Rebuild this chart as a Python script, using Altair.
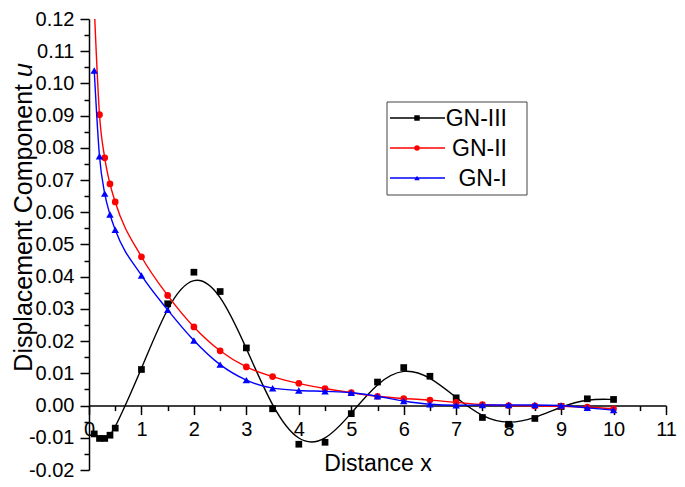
import altair as alt
import pandas as pd

# ---------------- data ----------------
x_vals = [0.1, 0.2, 0.3, 0.4, 0.5, 1, 1.5, 2, 2.5, 3, 3.5, 4, 4.5, 5, 5.5,
          6, 6.5, 7, 7.5, 8, 8.5, 9, 9.5, 10]
gn3 = [-0.0088, -0.0102, -0.0102, -0.0092, -0.0070, 0.0112, 0.0316, 0.0414,
       0.0354, 0.0179, -0.0010, -0.0120, -0.0114, -0.0025, 0.0073, 0.0118,
       0.0091, 0.0024, -0.0037, -0.0058, -0.0040, -0.0003, 0.0021, 0.0019]
gn2 = [0.124, 0.0903, 0.0769, 0.0688, 0.0632, 0.0462, 0.0342, 0.0244,
       0.0170, 0.0120, 0.0090, 0.0069, 0.0053, 0.0040, 0.0029, 0.0022,
       0.0017, 0.0010, 0.0003, 0.0000, -0.0001, -0.0002, -0.0005, -0.0010]
gn1 = [0.104, 0.0774, 0.0658, 0.0593, 0.0546, 0.0404, 0.0297, 0.0202,
       0.0127, 0.0079, 0.0054, 0.0047, 0.0044, 0.0040, 0.0029, 0.0014,
       0.0004, 0.0001, 0.0002, 0.0002, 0.0002, 0.0000, -0.0007, -0.0014]

series_names = ["GN-III", "GN-II", "GN-I"]
series_values = [gn3, gn2, gn1]
series_colors = ["#000000", "#ff0000", "#0000ff"]
series_shapes = ["square", "circle", "triangle-up"]
series_interp = ["basis", "monotone", "monotone"]

x_major = list(range(0, 12))
x_minor = [i + 0.5 for i in range(11)]
y_major = [round(-0.02 + 0.01 * i, 2) for i in range(15)]
y_minor = [round(-0.015 + 0.01 * i, 3) for i in range(14)]

x_title = "Distance x"
y_title_main = "Displacement Component"
y_title_var = "u"

# ---------------- layout ----------------
FONT = "Liberation Sans"
LEFT, TOP = 81, 11
W, H = 577, 451
Y0, Y1 = -0.02, 0.12
ZERO_OFF = -H * (0 - Y0) / (Y1 - Y0)

xscale = alt.Scale(domain=[0, 11], nice=False, zero=False)
yscale = alt.Scale(domain=[Y0, Y1], nice=False, zero=False)

x_axis = alt.Axis(values=x_major, format="d", orient="bottom", offset=ZERO_OFF,
                  title=x_title, tickSize=9, tickWidth=1.5, domainWidth=1.5,
                  domainColor="black", tickColor="black", labelFontSize=20,
                  labelFont=FONT, labelColor="black", labelPadding=5,
                  labelFlush=False, labelOverlap=False, grid=False,
                  titleFont=FONT, titleFontSize=23, titleFontWeight="normal",
                  titleColor="black", titlePadding=13)
y_axis = alt.Axis(values=y_major, format=".2f",
                  labelExpr="replace(datum.label, '\u2212', '-')",
                  orient="left", title=None, tickSize=9, tickWidth=1.5,
                  domainWidth=1.5, domainColor="black", tickColor="black",
                  labelFontSize=20, labelFont=FONT, labelColor="black",
                  labelPadding=6, labelFlush=False, labelOverlap=False,
                  grid=False)

data_layers = []
for name, vals, color, shape, interp in zip(series_names, series_values,
                                            series_colors, series_shapes,
                                            series_interp):
    df = pd.DataFrame({"x": x_vals, "u": vals, "series": name})
    base = alt.Chart(df)
    enc = dict(x=alt.X("x:Q", scale=xscale, axis=x_axis),
               y=alt.Y("u:Q", scale=yscale, axis=y_axis))
    line = base.mark_line(color=color, strokeWidth=1.4, interpolate=interp,
                          clip=True).encode(**enc)
    pts = base.mark_point(shape=shape, filled=True, color=color, opacity=1,
                          size=55 if shape == "triangle-up" else 45,
                          clip=True).encode(**enc)
    data_layers += [line, pts]

main = alt.layer(*data_layers)

# minor ticks (own axes, same scales)
minor_df = pd.DataFrame({"x": x_vals, "u": gn1})
minor = alt.Chart(minor_df).mark_point(opacity=0).encode(
    x=alt.X("x:Q", scale=xscale,
            axis=alt.Axis(values=x_minor, orient="bottom", offset=ZERO_OFF,
                          labels=False, domain=False, tickSize=5,
                          tickWidth=1.5, tickColor="black", title=None,
                          grid=False)),
    y=alt.Y("u:Q", scale=yscale,
            axis=alt.Axis(values=y_minor, orient="left", labels=False,
                          domain=False, tickSize=5, tickWidth=1.5,
                          tickColor="black", title=None, grid=False)),
)

# ---------------- legend (decoration, pixel placement) ----------------
one = pd.DataFrame({"a": [0]})
legend_layers = [
    alt.Chart(one).mark_rect(fill="white", stroke="#444444", strokeWidth=1).encode(
        x=alt.value(298), x2=alt.value(438), y=alt.value(83), y2=alt.value(176))
]
for i, (name, color, shape) in enumerate(zip(series_names, series_colors,
                                             series_shapes)):
    yy = 99 + 30 * i
    legend_layers.append(alt.Chart(one).mark_rule(color=color, strokeWidth=1.4).encode(
        x=alt.value(301), x2=alt.value(356), y=alt.value(yy)))
    legend_layers.append(alt.Chart(one).mark_point(shape=shape, filled=True,
                                                   color=color, opacity=1,
                                                   size=30).encode(
        x=alt.value(328), y=alt.value(yy)))
    legend_layers.append(alt.Chart(one).mark_text(
        text=name, font=FONT, fontSize=23, align="right", baseline="middle",
        color="black").encode(x=alt.value(418), y=alt.value(yy + 1)))

# ---------------- y title with italic variable ----------------
ytitle1 = alt.Chart(one).mark_text(text=y_title_main, font=FONT,
                                   fontSize=25, angle=270, align="right",
                                   baseline="alphabetic", color="black").encode(
    x=alt.value(-57.5), y=alt.value(65))
ytitle2 = alt.Chart(one).mark_text(text=y_title_var, font=FONT, fontSize=25,
                                   fontStyle="italic", angle=270, align="left",
                                   baseline="alphabetic", color="black").encode(
    x=alt.value(-57.5), y=alt.value(58))

chart = alt.layer(main, minor, *legend_layers, ytitle1, ytitle2).resolve_axis(
    x="independent", y="independent"
).properties(
    width=W, height=H,
    autosize=alt.AutoSizeParams(type="none"),
    padding={"left": LEFT, "top": TOP, "right": 11, "bottom": 9},
    background="white",
).configure_view(stroke=None)

chart.save("out.html", embed_options={"renderer": "svg", "actions": False})
